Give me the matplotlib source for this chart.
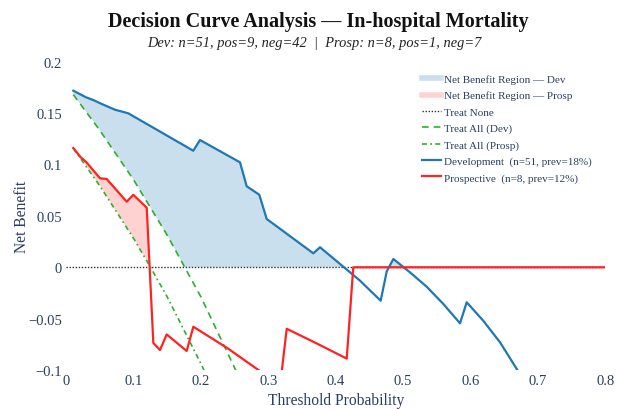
import numpy as np
import matplotlib
matplotlib.use("Agg")
import matplotlib.pyplot as plt
from matplotlib.lines import Line2D

# ---------------- data ----------------
dev_x = [0.0104, 0.0292, 0.0401, 0.0525, 0.0723, 0.092, 0.1885, 0.1985, 0.2579,
         0.2678, 0.2865, 0.2975, 0.3667, 0.3766, 0.436, 0.4667, 0.4757, 0.4855,
         0.5102, 0.535, 0.5597, 0.5845, 0.5944, 0.619, 0.6439, 0.6687, 0.69]
dev_y = [0.1718, 0.1654, 0.1627, 0.1589, 0.1533, 0.1498, 0.1134, 0.1238, 0.1021,
         0.0788, 0.0706, 0.047, 0.0136, 0.0195, -0.013, -0.0325, -0.0039, 0.0081,
         -0.0049, -0.0189, -0.0357, -0.0545, -0.034, -0.052, -0.073, -0.0989, -0.124]

prosp_x = [0.0104, 0.0214, 0.0292, 0.05, 0.06, 0.0897, 0.0995, 0.1194, 0.1292,
           0.1391, 0.149, 0.1787, 0.1886, 0.24, 0.2886, 0.3172, 0.3272, 0.37,
           0.4163, 0.426, 0.8]
prosp_y = [0.116, 0.107, 0.1027, 0.0866, 0.0859, 0.0638, 0.0705, 0.058, -0.0736,
           -0.0805, -0.0653, -0.0814, -0.0578, -0.079, -0.1015, -0.116, -0.0598,
           -0.0735, -0.0888, 0.0, 0.0]

treat_all_dev_x = [0.0104, 0.05, 0.10, 0.15, 0.20, 0.25, 0.26]
treat_all_dev_y = [0.168, 0.133, 0.085, 0.031, -0.029, -0.098, -0.113]

treat_all_prosp_x = [0.0104, 0.05, 0.10, 0.125, 0.15, 0.20, 0.21]
treat_all_prosp_y = [0.1158, 0.079, 0.028, 0.0, -0.029, -0.094, -0.108]

treat_none_x = [0.0, 0.8]
treat_none_y = [0.0, 0.0]

x_ticks = [0, 0.1, 0.2, 0.3, 0.4, 0.5, 0.6, 0.7, 0.8]
x_tick_labels = ["0", "0.1", "0.2", "0.3", "0.4", "0.5", "0.6", "0.7", "0.8"]
y_ticks = [-0.1, -0.05, 0, 0.05, 0.1, 0.15, 0.2]
y_tick_labels = ["\u22120.1", "\u22120.05", "0", "0.05", "0.1", "0.15", "0.2"]

title = "Decision Curve Analysis \u2014 In-hospital Mortality"
subtitle = "Dev: n=51, pos=9, neg=42  |  Prosp: n=8, pos=1, neg=7"

# ---------------- style ----------------
W, H = 617, 410
plt.rcParams["font.family"] = ["Liberation Serif", "DejaVu Serif"]
AX_COL = "#2a3f5f"
BLUE = "#1f77b4"
RED = "#ff2222"
GREEN = "#2cb02c"
BLUE_FILL = "#c9dfee"
RED_FILL = "#ffd2d2"

fig = plt.figure(figsize=(W / 100, H / 100), dpi=100)
left, right = 66.3 / W, 605.2 / W
top, bottom = 1 - 62.7 / H, 1 - 371.1 / H
ax = fig.add_axes([left, bottom, right - left, top - bottom])

# fills
g = np.linspace(0.0104, 0.69, 3000)
dev_g = np.interp(g, dev_x, dev_y)
base_dev = np.maximum(np.interp(g, treat_all_dev_x, treat_all_dev_y), 0)
ax.fill_between(g, dev_g, base_dev, where=dev_g > base_dev, interpolate=True,
                color=BLUE_FILL, lw=0, zorder=1)
gp = np.linspace(0.0104, 0.8, 3000)
pr_g = np.interp(gp, prosp_x, prosp_y)
base_pr = np.maximum(np.interp(gp, treat_all_prosp_x, treat_all_prosp_y, right=-1), 0)
ax.fill_between(gp, pr_g, base_pr, where=pr_g > base_pr, interpolate=True,
                color=RED_FILL, lw=0, zorder=1)

ax.plot(treat_none_x, treat_none_y, color="#333333", lw=1.0, ls=(0, (1, 1.2)), zorder=2)
ax.plot(treat_all_dev_x, treat_all_dev_y, color=GREEN, lw=1.2, ls=(0, (4, 3)), zorder=3)
ax.plot(treat_all_prosp_x, treat_all_prosp_y, color=GREEN, lw=1.2, ls=(0, (3, 2, 1, 2)), zorder=3)
ax.plot(dev_x, dev_y, color=BLUE, lw=1.6, zorder=4)
ax.plot(prosp_x, prosp_y, color=RED, lw=1.6, zorder=4)

ax.set_xlim(0, 0.8)
ax.set_ylim(-0.1, 0.2)
for s in ax.spines.values():
    s.set_visible(False)
ax.set_xticks(x_ticks)
ax.set_xticklabels(x_tick_labels)
ax.set_yticks(y_ticks)
ax.set_yticklabels(y_tick_labels)
ax.tick_params(axis="both", length=0, colors=AX_COL, labelsize=10.5)
ax.tick_params(axis="x", pad=3)
ax.tick_params(axis="y", pad=3)

fig.text((left + right) / 2, 1 - 401 / H, "Threshold Probability", ha="center", va="center",
         color=AX_COL, fontsize=11.2)
fig.text(22 / W, (top + bottom) / 2, "Net Benefit", ha="center", va="center",
         rotation=90, color=AX_COL, fontsize=11.2)

fig.text(318 / W, 1 - 22 / H, title, ha="center", va="center", fontsize=14.5,
         fontweight="bold", color="#111111")
fig.text(314 / W, 1 - 44 / H, subtitle, ha="center", va="center", fontsize=10.4,
         style="italic", color="#222222")

handles = [
    Line2D([], [], color=BLUE_FILL, lw=4),
    Line2D([], [], color=RED_FILL, lw=4),
    Line2D([], [], color="#333333", lw=1.0, ls=(0, (1, 1.2))),
    Line2D([], [], color=GREEN, lw=1.2, ls=(0, (4, 3))),
    Line2D([], [], color=GREEN, lw=1.2, ls=(0, (3, 2, 1, 2))),
    Line2D([], [], color=BLUE, lw=1.6),
    Line2D([], [], color=RED, lw=1.6),
]
labels = [
    "Net Benefit Region \u2014 Dev",
    "Net Benefit Region \u2014 Prosp",
    "Treat None",
    "Treat All (Dev)",
    "Treat All (Prosp)",
    "Development  (n=51, prev=18%)",
    "Prospective  (n=8, prev=12%)",
]
leg = fig.legend(handles, labels, loc="upper left",
                 bbox_to_anchor=(421.7 / W, 1 - 75.5 / H), bbox_transform=fig.transFigure,
                 frameon=False, fontsize=8, handlelength=1.75, handletextpad=0.25,
                 labelspacing=0.58, borderpad=0, borderaxespad=0)
for t in leg.get_texts():
    t.set_color(AX_COL)

fig.savefig("out.png", dpi=100)
